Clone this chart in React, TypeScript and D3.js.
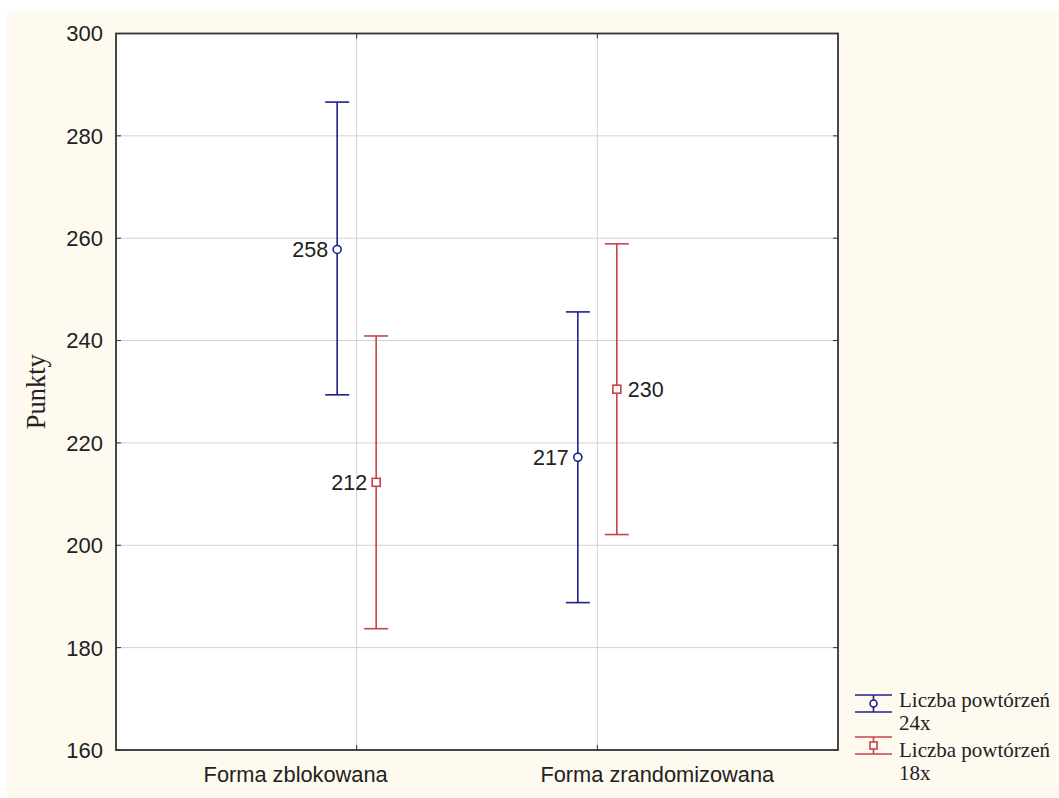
import React from "react";
import * as d3 from "d3";

const categories = ["Forma zblokowana", "Forma zrandomizowana"];
const seriesNames = ["Liczba powtórzeń 24x", "Liczba powtórzeń 18x"];
const seriesLegendLines = [["Liczba powtórzeń", "24x"], ["Liczba powtórzeń", "18x"]];
const means24 = [257.8, 217.2];
const lower24 = [229.4, 188.8];
const upper24 = [286.6, 245.6];
const means18 = [212.3, 230.5];
const lower18 = [183.7, 202.1];
const upper18 = [240.9, 258.9];
const labels24 = ["258", "217"];
const labels18 = ["212", "230"];
const yTicks = [160, 180, 200, 220, 240, 260, 280, 300];

const W = 1059;
const H = 798;
const M = { left: 116, top: 33.5, right: 838, bottom: 750 };
const BLUE = "#1f1f8f";
const RED = "#c5434a";

export default function App() {
  const y = d3.scaleLinear().domain([160, 300]).range([M.bottom, M.top]);
  const x = d3.scalePoint<string>().domain(["", ...categories, " "]).range([M.left, M.right]);
  const off = 19.5;
  const cap = 12;
  const catLabelShift = [-61, 60];

  const series = [
    { name: seriesNames[0], color: BLUE, means: means24, lo: lower24, hi: upper24, labels: labels24, dx: -off, shape: "circle" },
    { name: seriesNames[1], color: RED, means: means18, lo: lower18, hi: upper18, labels: labels18, dx: off, shape: "square" },
  ];

  const labelRight = [[false, false], [false, true]];

  return (
    <svg width={W} height={H} style={{ position: "absolute", left: 0, top: 0 }}>
      <rect x={7} y={11} width={W - 7} height={H - 11} fill="#fffaf0" />
      <rect x={M.left} y={M.top} width={M.right - M.left} height={M.bottom - M.top} fill="#ffffff" />
      {yTicks.map((t) => (
        <line key={"g" + t} x1={M.left} x2={M.right} y1={y(t)} y2={y(t)} stroke="#d2d2d2" strokeWidth={1} />
      ))}
      {categories.map((c) => (
        <line key={"gv" + c} x1={x(c)} x2={x(c)} y1={M.top} y2={M.bottom} stroke="#d2d2d2" strokeWidth={1} />
      ))}
      {yTicks.map((t) => (
        <g key={"t" + t}>
          <line x1={M.left} x2={M.left + 5} y1={y(t)} y2={y(t)} stroke="#333" strokeWidth={1} />
          <line x1={M.right - 5} x2={M.right} y1={y(t)} y2={y(t)} stroke="#333" strokeWidth={1} />
          <text x={103} y={y(t)} dy="0.36em" textAnchor="end" fontFamily="Liberation Sans, Arial, sans-serif" fontSize={22} fill="#222">
            {t}
          </text>
        </g>
      ))}
      {categories.map((c, ci) => (
        <g key={"c" + c}>
          <line x1={x(c)} x2={x(c)} y1={M.bottom} y2={M.bottom - 5} stroke="#333" strokeWidth={1} />
          <line x1={x(c)} x2={x(c)} y1={M.top} y2={M.top + 5} stroke="#333" strokeWidth={1} />
          <text x={(x(c) as number) + catLabelShift[ci]} y={782} textAnchor="middle" fontFamily="Liberation Sans, Arial, sans-serif" fontSize={21.8} fill="#222">
            {c}
          </text>
        </g>
      ))}
      <rect x={M.left} y={M.top} width={M.right - M.left} height={M.bottom - M.top} fill="none" stroke="#333" strokeWidth={1.8} />
      <text transform={`translate(45,${(M.top + M.bottom) / 2}) rotate(-90)`} textAnchor="middle" fontFamily="Liberation Serif, Times New Roman, serif" fontSize={26.5} fill="#222">
        Punkty
      </text>
      {series.map((s, si) =>
        categories.map((c, ci) => {
          const cx = (x(c) as number) + s.dx;
          const cy = y(s.means[ci]);
          const right = labelRight[si][ci];
          return (
            <g key={s.name + c}>
              <line x1={cx} x2={cx} y1={y(s.hi[ci])} y2={y(s.lo[ci])} stroke={s.color} strokeWidth={1.6} />
              <line x1={cx - cap} x2={cx + cap} y1={y(s.hi[ci])} y2={y(s.hi[ci])} stroke={s.color} strokeWidth={1.6} />
              <line x1={cx - cap} x2={cx + cap} y1={y(s.lo[ci])} y2={y(s.lo[ci])} stroke={s.color} strokeWidth={1.6} />
              {s.shape === "circle" ? (
                <circle cx={cx} cy={cy} r={4} fill="#fff" stroke={s.color} strokeWidth={1.6} />
              ) : (
                <rect x={cx - 4} y={cy - 4} width={8} height={8} fill="#fff" stroke={s.color} strokeWidth={1.6} />
              )}
              <text x={right ? cx + 11 : cx - 9} y={cy} dy="0.36em" textAnchor={right ? "start" : "end"} fontFamily="Liberation Sans, Arial, sans-serif" fontSize={21.5} fill="#222">
                {s.labels[ci]}
              </text>
            </g>
          );
        })
      )}
      {series.map((s, si) => {
        const top = 695 + si * 42;
        const bot = top + 17;
        const mid = (top + bot) / 2;
        const lx = 873.5;
        return (
          <g key={"leg" + si}>
            <line x1={855} x2={892} y1={top} y2={top} stroke={s.color} strokeWidth={1.6} />
            <line x1={855} x2={892} y1={bot} y2={bot} stroke={s.color} strokeWidth={1.6} />
            <line x1={lx} x2={lx} y1={top} y2={bot} stroke={s.color} strokeWidth={1.6} />
            {s.shape === "circle" ? (
              <circle cx={lx} cy={mid} r={3.5} fill="#fff" stroke={s.color} strokeWidth={1.6} />
            ) : (
              <rect x={lx - 3.5} y={mid - 3.5} width={7} height={7} fill="#fff" stroke={s.color} strokeWidth={1.6} />
            )}
            <text x={899} y={706.5 + si * 50.5} fontFamily="Liberation Serif, Times New Roman, serif" fontSize={21} fill="#222">
              {seriesLegendLines[si][0]}
            </text>
            <text x={899} y={730 + si * 50} fontFamily="Liberation Serif, Times New Roman, serif" fontSize={21} fill="#222">
              {seriesLegendLines[si][1]}
            </text>
          </g>
        );
      })}
    </svg>
  );
}
